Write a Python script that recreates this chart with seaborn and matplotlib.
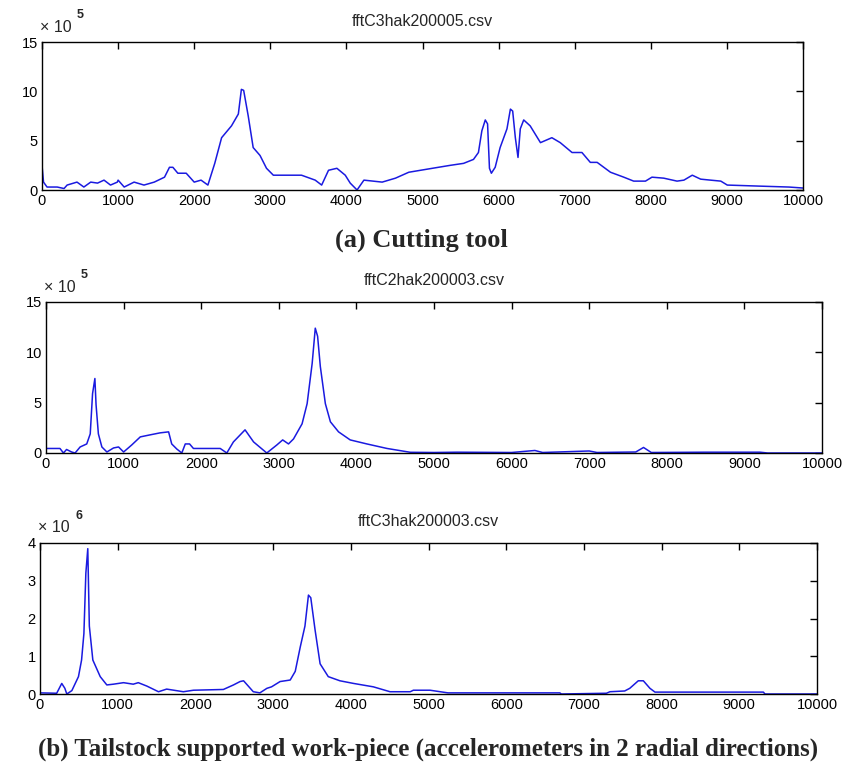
import numpy as np
import pandas as pd
import matplotlib
matplotlib.use("Agg")
import matplotlib.pyplot as plt
import seaborn as sns

# ---- data ----
# Panel (a): fftC3hak200005.csv, values in 1e5
f1 = [0, 20, 66, 200, 290, 330, 460, 550, 640, 730, 815, 900, 990, 1000, 1080, 1210, 1340, 1475,
      1610, 1675, 1720, 1785, 1895, 2000, 2090, 2180, 2270, 2360, 2490, 2580, 2620, 2650, 2710,
      2775, 2865, 2950, 3040, 3190, 3410, 3590, 3675, 3765, 3875, 3985, 4050, 4140, 4230, 4470,
      4645, 4820, 5130, 5365, 5540, 5670, 5735, 5780, 5825, 5855, 5880, 5905, 5955, 6020, 6110,
      6155, 6185, 6220, 6255, 6285, 6330, 6415, 6550, 6700, 6810, 6965, 7095, 7205, 7295, 7470,
      7645, 7775, 7930, 8015, 8170, 8345, 8435, 8545, 8655, 8785, 8920, 9005, 9400, 9815, 10000]
v1 = [2.5, 0.8, 0.3, 0.3, 0.15, 0.5, 0.8, 0.3, 0.8, 0.7, 1.0, 0.5, 0.8, 1.0, 0.3, 0.8, 0.5, 0.8,
      1.3, 2.3, 2.3, 1.7, 1.7, 0.8, 1.0, 0.5, 2.7, 5.3, 6.5, 7.7, 10.2, 10.1, 7.5,
      4.3, 3.5, 2.2, 1.5, 1.5, 1.5, 1.0, 0.5, 2.0, 2.2, 1.5, 0.7, 0.0, 1.0, 0.8,
      1.2, 1.8, 2.2, 2.5, 2.7, 3.1, 3.8, 6.0, 7.1, 6.7, 2.2, 1.7, 2.3, 4.3, 6.2,
      8.2, 8.0, 5.3, 3.3, 6.2, 7.1, 6.5, 4.8, 5.3, 4.8, 3.8, 3.8, 2.8, 2.8, 1.8,
      1.3, 0.9, 0.9, 1.3, 1.2, 0.9, 1.0, 1.5, 1.1, 1.0, 0.9, 0.5, 0.4, 0.3, 0.2]

# Panel (b) top: fftC2hak200003.csv, values in 1e5
f2 = [0, 180, 225, 265, 330, 375, 440, 525, 570, 600, 630, 645, 675, 720, 785, 870, 935, 1000,
      1105, 1215, 1340, 1470, 1580, 1620, 1685, 1750, 1795, 1850, 1900, 2245, 2330, 2415, 2565,
      2675, 2845, 2975, 3050, 3125, 3190, 3300, 3365, 3430, 3470, 3500, 3535, 3600, 3665, 3770,
      3920, 4135, 4395, 4695, 5000, 5300, 6000, 6300, 6400, 7000, 7100, 7600, 7700, 7800, 8500,
      9200, 9300, 10000]
v2 = [0.45, 0.45, 0.0, 0.35, 0.1, 0.0, 0.6, 0.9, 1.9, 5.9, 7.4, 4.8, 1.9, 0.6, 0.1, 0.5, 0.6, 0.1,
      0.8, 1.6, 1.8, 2.0, 2.1, 0.9, 0.4, 0.0, 0.9, 0.9, 0.45, 0.45, 0.0, 1.1, 2.3,
      1.1, 0.0, 0.8, 1.3, 0.9, 1.4, 2.9, 4.9, 8.9, 12.4, 11.6, 8.6, 4.9, 3.1, 2.1,
      1.3, 0.9, 0.45, 0.07, 0.05, 0.08, 0.05, 0.25, 0.05, 0.2, 0.05, 0.1, 0.55, 0.05, 0.08,
      0.08, 0.0, 0.0]

# Panel (b) bottom: fftC3hak200003.csv, values in 1e6
f3 = [0, 215, 280, 320, 345, 410, 495, 535, 565, 590, 615, 635, 680, 775, 860, 945, 1075, 1200,
      1265, 1375, 1525, 1630, 1845, 1975, 2360, 2490, 2575, 2620, 2745, 2830, 2920, 2980, 3090,
      3220, 3285, 3350, 3410, 3455, 3485, 3540, 3605, 3710, 3860, 4035, 4290, 4505, 4765, 4805,
      5020, 5250, 6690, 6710, 7290, 7335, 7525, 7590, 7700, 7765, 7850, 7915, 9310, 9330, 10000]
v3 = [0.03, 0.02, 0.28, 0.15, 0.0, 0.09, 0.46, 0.9, 1.6, 3.2, 3.85, 1.8, 0.9, 0.46, 0.24, 0.26, 0.3, 0.26,
      0.3, 0.21, 0.06, 0.13, 0.06, 0.1, 0.12, 0.24, 0.33, 0.35, 0.06, 0.03, 0.15, 0.19, 0.33,
      0.37, 0.6, 1.25, 1.8, 2.62, 2.55, 1.7, 0.8, 0.46, 0.35, 0.28, 0.19, 0.06, 0.06, 0.1,
      0.1, 0.03, 0.03, 0.0, 0.02, 0.06, 0.08, 0.15, 0.35, 0.35, 0.15, 0.05, 0.05, 0.0, 0.0]

titles = ["fftC3hak200005.csv", "fftC2hak200003.csv", "fftC3hak200003.csv"]
exponents = ["5", "5", "6"]
ylims = [15, 15, 4]
yticks = [[0, 5, 10, 15], [0, 5, 10, 15], [0, 1, 2, 3, 4]]
xticks = list(range(0, 10001, 1000))
captions = ["(a) Cutting tool",
            "(b) Tailstock supported work-piece (accelerometers in 2 radial directions)"]

sns.set_style("white")
plt.rcParams['font.family'] = ['Liberation Sans', 'DejaVu Sans']

W, H = 856, 772
fig = plt.figure(figsize=(W / 100, H / 100), dpi=100)
fig.patch.set_facecolor("white")

# axes boxes in pixels: left, top, right, bottom
boxes = [(42, 42, 803, 190), (46, 302, 822, 453), (40, 543, 817, 694)]
series = [(f1, v1), (f2, v2), (f3, v3)]

for i, ((l, t, r, b), (fx, vy)) in enumerate(zip(boxes, series)):
    ax = fig.add_axes([l / W, 1 - b / H, (r - l) / W, (b - t) / H])
    df = pd.DataFrame({"freq": fx, "amp": vy})
    sns.lineplot(data=df, x="freq", y="amp", ax=ax, color="#1a1ae0", linewidth=1.1)
    ax.set_xlim(0, 10000)
    ax.set_ylim(0, ylims[i])
    ax.set_xticks(xticks)
    ax.set_yticks(yticks[i])
    ax.set_xticklabels([str(x) for x in xticks])
    ax.set_yticklabels([str(y) for y in yticks[i]])
    ax.set_xlabel("")
    ax.set_ylabel("")
    ax.tick_params(direction="in", length=5, width=1, top=True, right=True,
                   labelsize=10.5, pad=3, colors="black")
    for sp in ax.spines.values():
        sp.set_visible(True)
        sp.set_color("black")
        sp.set_linewidth(1.0)
    ax.set_facecolor("white")
    # title
    fig.text(((l + r) / 2) / W, 1 - (t - 21) / H, titles[i], ha="center", va="center",
             fontsize=11.5)
    # exponent label
    fig.text((l - 2) / W, 1 - (t - 15) / H, "\u00d7 10", ha="left", va="center",
             fontsize=11.5)
    fig.text((l + 35) / W, 1 - (t - 27) / H, exponents[i], ha="left", va="center",
             fontsize=9, fontweight="bold")

fig.text(421 / W, 1 - 240 / H, captions[0], ha="center", va="center", fontsize=19,
         fontweight="bold", family=["Liberation Serif", "DejaVu Serif"])
fig.text(428 / W, 1 - 749 / H, captions[1], ha="center", va="center", fontsize=18,
         fontweight="bold", family=["Liberation Serif", "DejaVu Serif"])

fig.savefig("out.png", dpi=100, facecolor="white")
